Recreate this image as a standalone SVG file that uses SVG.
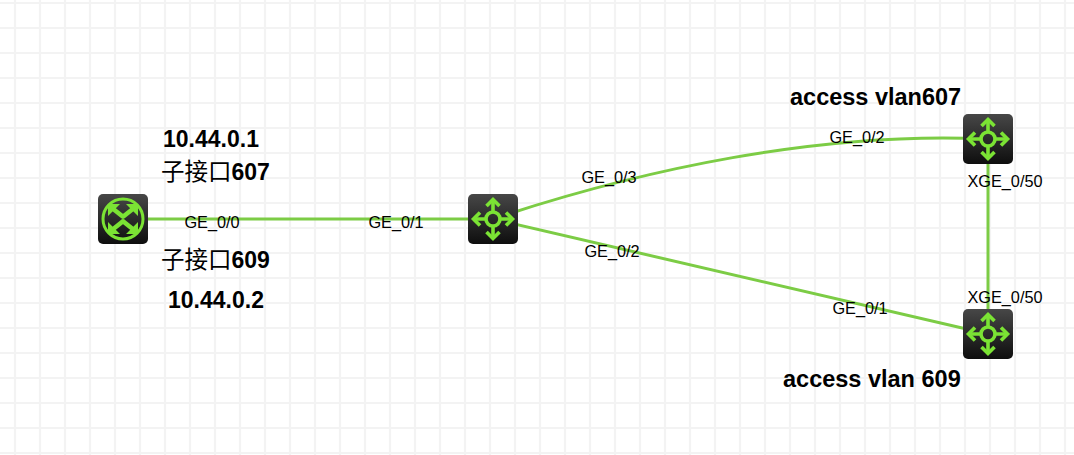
<svg xmlns="http://www.w3.org/2000/svg" width="1074" height="455" viewBox="0 0 1074 455">
<style>
.port{font:16.3px "Liberation Sans",Arial,sans-serif;fill:#000;text-anchor:middle}
.lbl{font:bold 23px "Liberation Sans",Arial,sans-serif;fill:#000}
.wide{font-size:23.5px}
.cjk{font:23.5px "Noto Sans CJK SC",sans-serif}
.link{fill:none;stroke:#7ccc45;stroke-width:3}
.ico{fill:none;stroke:#7be334;stroke-width:3.6}
.ring{fill:none;stroke:#7be334;stroke-width:3}
.x{fill:none;stroke:#7be334;stroke-width:4.500}
</style>
<defs>
<pattern id="grid" width="25" height="25" patternUnits="userSpaceOnUse" x="2" y="2">
<path d="M13 0V25M0 1H25" stroke="#f3f3f3" stroke-width="2.200" fill="none"/>
</pattern>
<linearGradient id="body" x1="0" y1="0" x2="0" y2="1"><stop offset="0" stop-color="#474747"/><stop offset="1" stop-color="#0e0e0e"/></linearGradient>
<g id="sw">
<rect x="-25" y="-25" width="50" height="50" rx="5" fill="url(#body)"/>
<circle r="7" class="ico"/>
<path class="ico" d="M0-8V-18M0 8V18M-8 0H-18M8 0H18"/>
<path class="ico" d="M-6.500-13L0-19.500L6.500-13M-6.500 13L0 19.500L6.500 13M-13-6.500L-19.500 0L-13 6.500M13-6.500L19.500 0L13 6.500"/>
</g>
<g id="rt">
<rect x="-25" y="-25" width="50" height="50" rx="5" fill="url(#body)"/>
<circle r="20" class="ring"/>
<path class="x" d="M-11-11L-1-3Q0-2 1-3L11-11M-11 11L-1 3Q0 2 1 3L11 11"/>
<path fill="#7be334" d="M-15-15H-3L-15-3ZM15-15H3L15-3ZM-15 15H-3L-15 3ZM15 15H3L15 3Z"/>
</g>
</defs>
<rect width="1074" height="455" fill="#fff"/>
<rect width="1074" height="455" fill="url(#grid)"/>
<g id="connectors">
<path class="link" d="M123 219H493"/>
<path class="link" d="M493 219C640 170 820 131 988 139"/>
<path class="link" d="M493 219L988 334"/>
<path class="link" d="M988 139V334"/>
</g>
<g id="router"><use href="#rt" x="123" y="219"/></g>
<g id="core"><use href="#sw" x="493" y="219"/></g>
<g id="sw607"><use href="#sw" x="988" y="139"/></g>
<g id="sw609"><use href="#sw" x="988" y="334"/></g>
<g id="labels">
<text class="port" x="212" y="228">GE_0/0</text>
<text class="port" x="396" y="228">GE_0/1</text>
<text class="port" x="609" y="183">GE_0/3</text>
<text class="port" x="612" y="257">GE_0/2</text>
<text class="port" x="857" y="143">GE_0/2</text>
<text class="port" x="860" y="314">GE_0/1</text>
<text class="port" x="1005" y="187">XGE_0/50</text>
<text class="port" x="1005" y="303">XGE_0/50</text>
<text class="lbl" x="163" y="147">10.44.0.1</text>
<text class="lbl" x="161" y="180"><tspan class="cjk">子接口</tspan>607</text>
<text class="lbl" x="161" y="268"><tspan class="cjk">子接口</tspan>609</text>
<text class="lbl" x="168" y="308">10.44.0.2</text>
<text class="lbl wide" x="790" y="105">access vlan607</text>
<text class="lbl wide" x="783" y="387">access vlan 609</text>
</g>
</svg>
